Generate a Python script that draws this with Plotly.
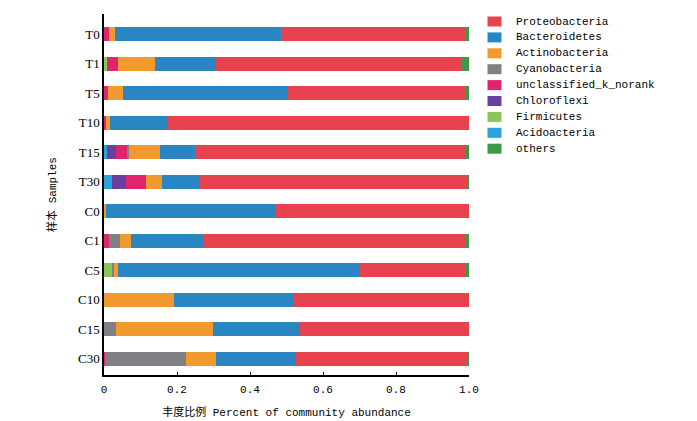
import plotly.graph_objects as go

samples = ["T0", "T1", "T5", "T10", "T15", "T30", "C0", "C1", "C5", "C10", "C15", "C30"]

# stacking order left -> right
acidoacteria  = [0.000, 0.000, 0.000, 0.000, 0.007, 0.022, 0.000, 0.000, 0.000, 0.000, 0.000, 0.000]
firmicutes    = [0.000, 0.007, 0.000, 0.000, 0.000, 0.000, 0.000, 0.000, 0.023, 0.000, 0.000, 0.000]
chloroflexi   = [0.000, 0.000, 0.000, 0.000, 0.025, 0.039, 0.000, 0.000, 0.000, 0.000, 0.000, 0.000]
unclassified  = [0.013, 0.032, 0.012, 0.005, 0.032, 0.055, 0.000, 0.013, 0.000, 0.000, 0.000, 0.002]
cyanobacteria = [0.000, 0.000, 0.000, 0.000, 0.005, 0.000, 0.000, 0.031, 0.004, 0.000, 0.032, 0.224]
actinobacteria= [0.018, 0.101, 0.040, 0.012, 0.084, 0.044, 0.006, 0.030, 0.010, 0.192, 0.267, 0.082]
bacteroidetes = [0.453, 0.165, 0.448, 0.155, 0.096, 0.104, 0.466, 0.197, 0.663, 0.325, 0.237, 0.217]
proteobacteria= [0.509, 0.675, 0.493, 0.828, 0.742, 0.731, 0.528, 0.720, 0.293, 0.483, 0.464, 0.469]
others        = [0.007, 0.020, 0.007, 0.000, 0.009, 0.005, 0.000, 0.009, 0.007, 0.000, 0.000, 0.006]

legend_order = ["Proteobacteria", "Bacteroidetes", "Actinobacteria", "Cyanobacteria",
                "unclassified_k_norank", "Chloroflexi", "Firmicutes", "Acidoacteria", "others"]

series = [
    ("Acidoacteria", acidoacteria, "#2AA3DC"),
    ("Firmicutes", firmicutes, "#8CC65A"),
    ("Chloroflexi", chloroflexi, "#6A3FA0"),
    ("unclassified_k_norank", unclassified, "#E0246E"),
    ("Cyanobacteria", cyanobacteria, "#807F83"),
    ("Actinobacteria", actinobacteria, "#F29A2E"),
    ("Bacteroidetes", bacteroidetes, "#2A86C2"),
    ("Proteobacteria", proteobacteria, "#E8424E"),
    ("others", others, "#3A9A48"),
]
colors = {n: c for n, _, c in series}

fig = go.Figure()
for name, vals, color in series:
    fig.add_trace(go.Bar(
        y=samples, x=vals, name=name, orientation="h",
        marker=dict(color=color, line=dict(width=0)),
        width=0.47, showlegend=False,
    ))

mono = "Liberation Mono, Noto Sans CJK SC, monospace"

# page has an 8px body margin; figure sized to compensate
W, H = 689, 413
ML, MR, MT, MB = 96, 228, 6, 46
pw, ph = W - ML - MR, H - MT - MB

def px_to_paper_x(px):
    return (px - 8 - ML) / pw

def px_to_paper_y(py):
    return (H - MB - (py - 8)) / ph

shapes, annots = [], []
for i, name in enumerate(legend_order):
    cy = 21.5 + 15.9 * i
    shapes.append(dict(type="rect", xref="paper", yref="paper",
                       x0=px_to_paper_x(487.5), x1=px_to_paper_x(501.5),
                       y0=px_to_paper_y(cy + 5), y1=px_to_paper_y(cy - 5),
                       fillcolor=colors[name], line=dict(width=0)))
    annots.append(dict(xref="paper", yref="paper", x=px_to_paper_x(514),
                       y=px_to_paper_y(cy), text=name, showarrow=False,
                       xanchor="left", yanchor="middle",
                       font=dict(family=mono, size=11, color="black")))

fig.update_layout(
    width=W, height=H,
    barmode="stack",
    paper_bgcolor="white", plot_bgcolor="white",
    margin=dict(l=ML, r=MR, t=MT, b=MB, autoexpand=False),
    font=dict(family=mono, size=11, color="black"),
    showlegend=False,
    shapes=shapes, annotations=annots,
    xaxis=dict(range=[0, 1.0], tickvals=[0, 0.2, 0.4, 0.6, 0.8, 1.0],
               ticktext=["0", "0.2", "0.4", "0.6", "0.8", "1.0"],
               showline=True, linecolor="black", linewidth=1.5,
               ticks="inside", ticklen=3, tickcolor="black",
               ticklabelstandoff=3,
               showgrid=False, zeroline=False, automargin=False,
               title=dict(text="丰度比例 Percent of community abundance",
                          font=dict(family=mono, size=11), standoff=13)),
    yaxis=dict(categoryorder="array", categoryarray=samples[::-1],
               range=[-0.55, 11.68],
               showline=True, linecolor="black", linewidth=1.5,
               ticks="", showgrid=False, zeroline=False, automargin=False,
               tickfont=dict(family="Liberation Serif, serif", size=13),
               title=dict(text="样本 Samples",
                          font=dict(family=mono, size=11), standoff=19)),
)

fig.write_html("out.html")
